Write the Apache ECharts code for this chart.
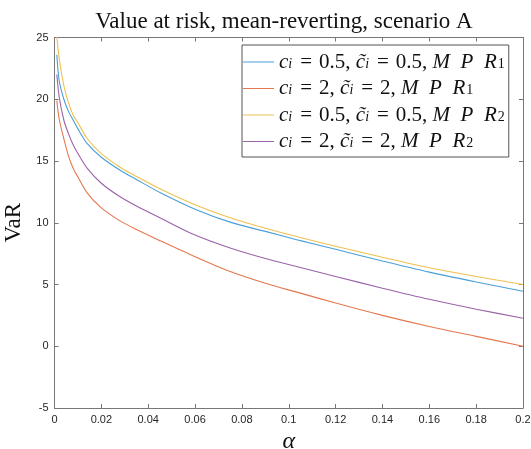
<!DOCTYPE html>
<html>
<head>
<meta charset="utf-8">
<script src="https://cdn.jsdelivr.net/npm/echarts@6/dist/echarts.min.js"></script>
<style>html,body{margin:0;padding:0;background:#fff;}#c{width:531px;height:449px;}</style>
</head>
<body>
<div id="c"></div>
<script>
const alpha = [0.001,0.002,0.004,0.006,0.008,0.01,0.014,0.02,0.028,0.035,0.045,0.06,0.075,0.09,0.105,0.12,0.14,0.16,0.18,0.2];
const blueA   = [23.6,21.5,20.0,19.0,18.3,17.6,16.4,15.3,14.25,13.5,12.45,11.1,10.05,9.3,8.55,7.85,6.9,6.0,5.2,4.45];
const orangeA = [19.9,18.4,16.8,15.4,14.4,13.7,12.4,11.2,10.15,9.45,8.55,7.25,6.05,5.1,4.3,3.5,2.5,1.6,0.8,0.0];
const yellowA = [25.1,23.3,21.1,19.7,18.7,18.1,16.8,15.6,14.5,13.75,12.75,11.45,10.4,9.55,8.8,8.1,7.2,6.35,5.65,5.0];
const purpleA = [22.0,20.2,18.3,17.2,16.3,15.6,14.4,13.2,12.1,11.35,10.4,9.0,7.95,7.1,6.38,5.65,4.7,3.8,3.0,2.27];
const names = ['s1','s2','s3','s4'];
const EQ = '\u2004=\u2004';
const MPR = 'M\u2002P\u2002R';
const legendLabels = {
  s1: '{m|c}{s|i}{n|' + EQ + '0.5, }{m|c\u0303}{s|i}{n|' + EQ + '0.5, }{m|' + MPR + '}{u|1}',
  s2: '{m|c}{s|i}{n|' + EQ + '2, }{m|c\u0303}{s|i}{n|' + EQ + '2, }{m|' + MPR + '}{u|1}',
  s3: '{m|c}{s|i}{n|' + EQ + '0.5, }{m|c\u0303}{s|i}{n|' + EQ + '0.5, }{m|' + MPR + '}{u|2}',
  s4: '{m|c}{s|i}{n|' + EQ + '2, }{m|c\u0303}{s|i}{n|' + EQ + '2, }{m|' + MPR + '}{u|2}'
};
const colors = ['#4A9FD8','#E3784F','#EFC04E','#9B63A8'];
const seriesVals = [blueA, orangeA, yellowA, purpleA];

const chart = echarts.init(document.getElementById('c'));
const axisCol = '#777';
const lblCol = '#262626';
const serif = 'Liberation Serif';
chart.setOption({
  animation: false,
  backgroundColor: '#fff',
  title: {
    text: 'Value at risk, mean-reverting, scenario A',
    left: 279, top: 5, textAlign: 'center',
    textStyle: {fontFamily: serif, fontWeight: 'normal', fontSize: 23, color: '#111'}
  },
  grid: {left: 54.5, right: 8, top: 37.5, bottom: 41, containLabel: false, outerBoundsMode: 'none'},
  legend: {
    orient: 'vertical', left: 242, top: 45,
    data: names.map((n, i) => ({name: n, icon: 'rect', itemStyle: {color: colors[i], borderWidth: 0}})),
    itemWidth: 31, itemHeight: 1, itemGap: 4,
    padding: [5, 4, 5, 1],
    borderColor: '#555', borderWidth: 1, backgroundColor: '#fff',
    formatter: n => legendLabels[n],
    textStyle: {
      fontFamily: serif, fontSize: 21, color: '#111', lineHeight: 18,
      rich: {
        m: {fontFamily: serif, fontStyle: 'italic', fontSize: 21, lineHeight: 18},
        n: {fontFamily: serif, fontSize: 21, lineHeight: 18},
        s: {fontFamily: serif, fontStyle: 'italic', fontSize: 14, lineHeight: 18, verticalAlign: 'bottom', padding: [7,1,0,0]},
        u: {fontFamily: serif, fontSize: 14, lineHeight: 18, verticalAlign: 'bottom', padding: [7,0,0,1]}
      }
    }
  },
  xAxis: [{
    type: 'value', min: 0, max: 0.2, interval: 0.02,
    name: '\u03b1', nameLocation: 'middle', nameGap: 16,
    nameTextStyle: {fontFamily: serif, fontStyle: 'italic', fontSize: 24, color: '#111'},
    axisLine: {onZero: false, lineStyle: {color: axisCol, width: 1}},
    axisTick: {inside: true, length: 4, lineStyle: {color: axisCol}},
    axisLabel: {color: lblCol, fontSize: 11, fontFamily: 'Liberation Sans', margin: 6},
    splitLine: {show: false}
  }, {
    type: 'value', min: 0, max: 0.2, interval: 0.02, position: 'top',
    axisLine: {show: true, onZero: false, lineStyle: {color: axisCol, width: 1}},
    axisTick: {inside: true, length: 4, lineStyle: {color: axisCol}},
    axisLabel: {show: false}, splitLine: {show: false}
  }],
  yAxis: [{
    type: 'value', min: -5, max: 25, interval: 5,
    name: 'VaR', nameLocation: 'middle', nameGap: 22,
    nameTextStyle: {fontFamily: serif, fontSize: 23, color: '#111'},
    axisLine: {show: true, onZero: false, lineStyle: {color: axisCol, width: 1}},
    axisTick: {show: true, inside: true, length: 4, lineStyle: {color: axisCol}},
    axisLabel: {color: lblCol, fontSize: 11, fontFamily: 'Liberation Sans', margin: 6},
    splitLine: {show: false}
  }, {
    type: 'value', min: -5, max: 25, interval: 5, position: 'right',
    axisLine: {show: true, onZero: false, lineStyle: {color: axisCol, width: 1}},
    axisTick: {show: true, inside: true, length: 4, lineStyle: {color: axisCol}},
    axisLabel: {show: false}, splitLine: {show: false}
  }],
  series: names.map((n, i) => ({
    name: n, type: 'line', xAxisIndex: 0, yAxisIndex: 0,
    data: alpha.map((a, j) => [a, seriesVals[i][j]]),
    symbol: 'none', showSymbol: false, smooth: 0.3, clip: true,
    color: colors[i],
    lineStyle: {width: 1.1, color: colors[i]}
  }))
});
</script>
</body>
</html>
